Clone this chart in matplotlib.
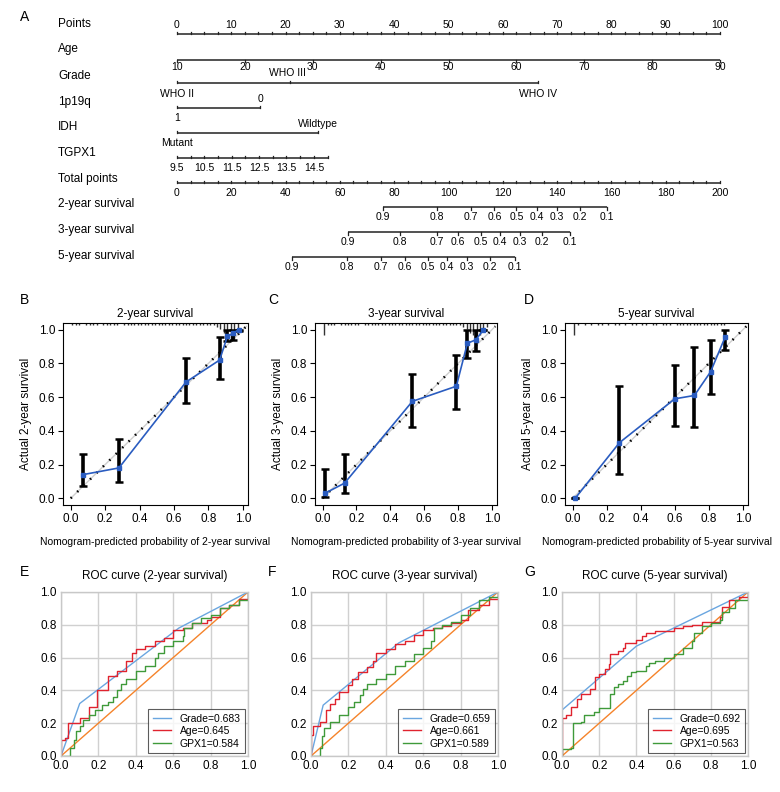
import numpy as np
import matplotlib
matplotlib.use('Agg')
import matplotlib.pyplot as plt

plt.rcParams['font.family'] = ['Liberation Sans Narrow', 'Liberation Sans', 'DejaVu Sans']

W, H = 780, 792

# ---------- A: nomogram ----------
points_ticks = list(range(0, 101, 10))
age_ticks = [10, 20, 30, 40, 50, 60, 70, 80, 90]
grade_levels = ['WHO II', 'WHO III', 'WHO IV']
grade_points = [0, 20.8, 66.5]
p19q_levels = ['1', '0']
p19q_points = [0, 15.3]
idh_levels = ['Mutant', 'Wildtype']
idh_points = [0, 26.0]
tgpx1_labels = [9.5, 10.5, 11.5, 12.5, 13.5, 14.5]
tgpx1_range = [9.5, 15.0]
tgpx1_pts_per_unit = 5.04
total_ticks = list(range(0, 201, 20))
surv_probs = [0.9, 0.8, 0.7, 0.6, 0.5, 0.4, 0.3, 0.2, 0.1]
surv2_total = [75.9, 95.8, 108.3, 116.9, 125.0, 132.6, 139.9, 148.4, 158.4]
surv3_total = [63.0, 82.1, 95.8, 103.5, 111.9, 118.9, 126.3, 134.3, 144.8]
surv5_total = [42.4, 62.6, 75.1, 84.0, 92.4, 99.4, 106.8, 115.3, 124.5]

# ---------- B-D: calibration ----------
cal2_pred = [0.07, 0.28, 0.67, 0.865, 0.91, 0.945, 0.975]
cal2_obs = [0.14, 0.18, 0.69, 0.82, 0.96, 0.98, 1.0]
cal2_lo = [0.07, 0.095, 0.565, 0.71, 0.935, 0.94, 0.99]
cal2_hi = [0.265, 0.35, 0.835, 0.955, 1.0, 1.0, 1.0]
cal2_rug = [1, 1, 1, 0, 1, 1, 1, 1, 0, 1, 1, 1, 1, 1, 0, 1, 1, 1, 1, 1, 1, 1, 1, 1, 1,
            1, 1, 1, 1, 1, 1, 1, 1, 1, 1, 1, 1, 1, 1, 1, 1, 1, 2, 3, 5, 7, 9, 8, 5, 0]

cal3_pred = [0.015, 0.13, 0.53, 0.79, 0.855, 0.905, 0.95]
cal3_obs = [0.03, 0.09, 0.575, 0.665, 0.92, 0.94, 1.0]
cal3_lo = [0.005, 0.03, 0.425, 0.53, 0.835, 0.875, 1.0]
cal3_hi = [0.175, 0.26, 0.74, 0.85, 1.0, 1.0, 1.0]
cal3_rug = [6, 1, 1, 1, 0, 1, 1, 1, 1, 1, 1, 0, 1, 1, 1, 1, 1, 1, 1, 1, 1, 1, 1, 1, 1,
            1, 1, 1, 1, 1, 1, 1, 1, 1, 1, 1, 1, 1, 1, 1, 1, 2, 3, 5, 6, 7, 6, 4, 2, 0]

cal5_pred = [0.015, 0.275, 0.6, 0.715, 0.81, 0.895]
cal5_obs = [0.0, 0.33, 0.59, 0.61, 0.75, 0.955]
cal5_lo = [0.0, 0.145, 0.43, 0.425, 0.62, 0.88]
cal5_hi = [0.0, 0.665, 0.79, 0.895, 0.94, 1.0]
cal5_rug = [6, 1, 0, 1, 0, 1, 0, 1, 1, 0, 1, 0, 1, 1, 0, 1, 0, 1, 1, 0, 1, 1, 0, 1, 1,
            0, 1, 1, 1, 0, 1, 1, 1, 1, 1, 1, 1, 1, 1, 1, 1, 1, 1, 1, 1, 0, 0, 0, 0, 0]

# ---------- E-G: ROC ----------
roc2_grade = ([0, 0.1, 0.63, 1.0], [0, 0.32, 0.78, 1.0])
roc2_age = ([0, 0, 0.02, 0.04, 0.1, 0.15, 0.19, 0.25, 0.25, 0.3, 0.35, 0.38, 0.4, 0.45, 0.5,
             0.55, 0.6, 0.65, 0.7, 0.78, 0.8, 0.85, 0.9, 0.95, 1.0],
            [0, 0.1, 0.11, 0.2, 0.23, 0.3, 0.4, 0.44, 0.49, 0.52, 0.58, 0.63, 0.65, 0.67, 0.7,
             0.72, 0.77, 0.78, 0.81, 0.83, 0.85, 0.9, 0.92, 0.96, 1.0])
roc2_gpx1 = ([0, 0.05, 0.07, 0.08, 0.1, 0.12, 0.15, 0.18, 0.22, 0.25, 0.28, 0.3, 0.32, 0.35,
              0.4, 0.45, 0.5, 0.52, 0.55, 0.6, 0.65, 0.66, 0.7, 0.75, 0.8, 0.85, 0.9, 0.95, 1.0],
             [0, 0.05, 0.1, 0.15, 0.18, 0.22, 0.25, 0.28, 0.31, 0.33, 0.36, 0.4, 0.44, 0.47,
              0.52, 0.55, 0.6, 0.63, 0.67, 0.7, 0.73, 0.78, 0.81, 0.84, 0.86, 0.9, 0.92, 0.95, 1.0])

roc3_grade = ([0, 0.065, 0.47, 1.0], [0, 0.31, 0.69, 1.0])
roc3_age = ([0, 0, 0.01, 0.05, 0.08, 0.1, 0.13, 0.15, 0.2, 0.22, 0.25, 0.3, 0.33, 0.35, 0.4,
             0.45, 0.5, 0.55, 0.6, 0.65, 0.7, 0.75, 0.8, 0.84, 0.84, 0.9, 0.95, 1.0],
            [0, 0.13, 0.18, 0.21, 0.28, 0.32, 0.35, 0.39, 0.43, 0.47, 0.51, 0.54, 0.58, 0.63,
             0.65, 0.68, 0.7, 0.74, 0.77, 0.78, 0.79, 0.81, 0.83, 0.85, 0.89, 0.92, 0.96, 1.0])
roc3_gpx1 = ([0, 0.05, 0.06, 0.07, 0.1, 0.15, 0.2, 0.23, 0.26, 0.28, 0.3, 0.35, 0.4, 0.45,
              0.5, 0.55, 0.6, 0.64, 0.66, 0.7, 0.75, 0.8, 0.85, 0.9, 0.95, 1.0],
             [0, 0.05, 0.12, 0.17, 0.21, 0.25, 0.3, 0.33, 0.37, 0.41, 0.44, 0.47, 0.5, 0.55,
              0.58, 0.62, 0.66, 0.7, 0.78, 0.8, 0.82, 0.86, 0.9, 0.95, 0.97, 1.0])

roc5_grade = ([0, 0, 0.4, 1.0], [0, 0.28, 0.67, 1.0])
roc5_age = ([0, 0, 0.02, 0.05, 0.08, 0.1, 0.15, 0.18, 0.2, 0.23, 0.25, 0.26, 0.3, 0.33, 0.34,
             0.4, 0.43, 0.45, 0.5, 0.6, 0.65, 0.7, 0.75, 0.85, 0.86, 0.9, 0.95, 1.0],
            [0, 0.23, 0.25, 0.3, 0.35, 0.38, 0.41, 0.48, 0.5, 0.53, 0.56, 0.62, 0.64, 0.66,
             0.69, 0.71, 0.73, 0.75, 0.76, 0.78, 0.79, 0.8, 0.82, 0.85, 0.91, 0.95, 0.97, 1.0])
roc5_gpx1 = ([0, 0, 0.05, 0.06, 0.1, 0.12, 0.17, 0.2, 0.26, 0.26, 0.28, 0.3, 0.33, 0.35, 0.37,
              0.4, 0.45, 0.47, 0.5, 0.55, 0.6, 0.65, 0.7, 0.71, 0.75, 0.8, 0.85, 0.86, 0.9,
              0.93, 1.0],
             [0, 0.04, 0.05, 0.2, 0.21, 0.25, 0.27, 0.29, 0.3, 0.38, 0.42, 0.44, 0.46, 0.49,
              0.51, 0.52, 0.55, 0.57, 0.58, 0.6, 0.62, 0.66, 0.7, 0.75, 0.79, 0.81, 0.83, 0.88,
              0.9, 0.95, 1.0])

auc_labels = [['Grade=0.683', 'Age=0.645', 'GPX1=0.584'],
              ['Grade=0.659', 'Age=0.661', 'GPX1=0.589'],
              ['Grade=0.692', 'Age=0.695', 'GPX1=0.563']]


def px_axes(fig, left, top, right, bottom):
    return fig.add_axes([left / W, 1 - bottom / H, (right - left) / W, (bottom - top) / H])


fig = plt.figure(figsize=(W / 100, H / 100), dpi=100)

# nomogram axes in "points" units horizontally, pixels vertically
ax = px_axes(fig, 0, 0, W, 280)
px_per_pt = (720 - 177) / 100
ax.set_xlim(-177 / px_per_pt, (W - 177) / px_per_pt)
ax.set_ylim(280, 0)
ax.axis('off')
fs = 7.5
lc = '#222222'


def scale_line(y, x0, x1):
    ax.plot([x0, x1], [y, y], color=lc, lw=1.1, solid_capstyle='butt')


def ticks(y, xs, up=True, ln=2.5):
    d = -ln if up else ln
    for x in xs:
        ax.plot([x, x], [y, y + d], color=lc, lw=0.9)


row_labels = ['Points', 'Age', 'Grade', '1p19q', 'IDH', 'TGPX1', 'Total points',
              '2-year survival', '3-year survival', '5-year survival']
row_y = [24, 49, 76, 102, 127, 153, 179, 204, 230, 256]
for lab, y in zip(row_labels, row_y):
    ax.text((58 - 177) / px_per_pt, y, lab, fontsize=8.5, va='center', ha='left')
ax.text((20 - 177) / px_per_pt, 17, 'A', fontsize=10, va='center', ha='left')

# Points
scale_line(34, 0, 100)
ticks(34, np.arange(0, 100.1, 2.5))
for v in points_ticks:
    ax.text(v, 25, str(v), fontsize=fs, ha='center', va='center')

# Age
age_pts = [(a - age_ticks[0]) / (age_ticks[-1] - age_ticks[0]) * 100 for a in age_ticks]
scale_line(60, 0, 100)
ticks(60, age_pts, up=False, ln=1.5)
for a, p in zip(age_ticks, age_pts):
    ax.text(p, 67, str(a), fontsize=fs, ha='center', va='center')

# Grade
scale_line(83, grade_points[0], grade_points[-1])
ticks(83, grade_points)
ax.text(grade_points[0], 94, grade_levels[0], fontsize=fs, ha='center', va='center')
ax.annotate(grade_levels[1], (grade_points[1], 73), xytext=(-2.5, 0), textcoords='offset pixels',
            fontsize=fs, ha='center', va='center')
ax.text(grade_points[2], 94, grade_levels[2], fontsize=fs, ha='center', va='center')

# 1p19q
scale_line(108, p19q_points[0], p19q_points[1])
ticks(108, p19q_points)
ax.text(p19q_points[0], 118, p19q_levels[0], fontsize=fs, ha='center', va='center')
ax.text(p19q_points[1], 99, p19q_levels[1], fontsize=fs, ha='center', va='center')

# IDH
scale_line(133, idh_points[0], idh_points[1])
ticks(133, idh_points)
ax.text(idh_points[0], 143, idh_levels[0], fontsize=fs, ha='center', va='center')
ax.text(idh_points[1], 124, idh_levels[1], fontsize=fs, ha='center', va='center')

# TGPX1
t_pts = lambda v: (v - tgpx1_range[0]) * tgpx1_pts_per_unit
scale_line(158, t_pts(tgpx1_range[0]), t_pts(tgpx1_range[1]))
ticks(158, [t_pts(v) for v in np.arange(tgpx1_range[0], tgpx1_range[1] + 0.01, 0.5)])
for v in tgpx1_labels:
    ax.text(t_pts(v), 168, f'{v:.1f}', fontsize=fs, ha='center', va='center')

# Total points
scale_line(183, 0, 100)
ticks(183, np.arange(0, 100.1, 2.5))
for v in total_ticks:
    ax.text(v / 2, 193, str(v), fontsize=fs, ha='center', va='center')

# survival scales
for tot, y in [(surv2_total, 207), (surv3_total, 232), (surv5_total, 257)]:
    xs = [t / 2 for t in tot]
    scale_line(y, xs[0], xs[-1])
    ticks(y, xs, up=False, ln=2.5)
    for p, x in zip(surv_probs, xs):
        ax.text(x, y + 10, f'{p:.1f}', fontsize=fs, ha='center', va='center')

# ---------- calibration panels ----------
cal_sets = [
    (cal2_pred, cal2_obs, cal2_lo, cal2_hi, cal2_rug, '2', (63, 248), 'B', 20),
    (cal3_pred, cal3_obs, cal3_lo, cal3_hi, cal3_rug, '3', (315, 497), 'C', 268),
    (cal5_pred, cal5_obs, cal5_lo, cal5_hi, cal5_rug, '5', (565, 748), 'D', 524),
]
diag = np.array([0, 1.02])
rug_x = np.arange(0.01, 1.0, 0.02)
tk = np.arange(0, 1.01, 0.2)
for pred, obs, lo, hi, rug, yr, (l, r), letter, lx in cal_sets:
    a = px_axes(fig, l, 323, r, 505)
    a.set_xlim(-0.045, 1.03)
    a.set_ylim(-0.04, 1.04)
    a.plot(diag, diag, color='#cfcfcf', lw=1.0)
    a.plot(diag, diag, color='black', lw=1.8, ls=(0, (0.6, 3.0)))
    pred = np.array(pred); obs = np.array(obs)
    a.errorbar(pred, obs, yerr=[obs - np.array(lo), np.array(hi) - obs], fmt='none',
               ecolor='black', elinewidth=2.6, capsize=3, capthick=1.8, zorder=3)
    a.plot(pred, obs, color='#2a5cc0', lw=1.2, marker='s', ms=2.5, zorder=4)
    rh = np.array(rug) * 0.012
    a.vlines(rug_x[rh > 0], 1.04 - rh[rh > 0], 1.04, color='#333333', lw=1.0)
    a.set_xticks(tk)
    a.set_yticks(tk)
    a.set_xticklabels([f'{v:.1f}' for v in tk])
    a.set_yticklabels([f'{v:.1f}' for v in tk])
    a.tick_params(labelsize=8.5, length=3.5, width=0.8, pad=2)
    for s in a.spines.values():
        s.set_linewidth(0.8)
    a.set_title(f'{yr}-year survival', fontsize=8.5, pad=4)
    a.set_xlabel(f'Nomogram-predicted probability of {yr}-year survival', fontsize=7.5, labelpad=9)
    a.set_ylabel(f'Actual {yr}-year survival', fontsize=8.5, labelpad=5)
    fig.text(lx / W, 1 - 300 / H, letter, fontsize=10, va='center', ha='left')

# ---------- ROC panels ----------
roc_sets = [
    (roc2_grade, roc2_age, roc2_gpx1, '2', (61, 248), 'E', 20),
    (roc3_grade, roc3_age, roc3_gpx1, '3', (311, 498), 'F', 268),
    (roc5_grade, roc5_age, roc5_gpx1, '5', (562, 748), 'G', 524),
]
for i, (g, ag, gp, yr, (l, r), letter, lx) in enumerate(roc_sets):
    a = px_axes(fig, l, 592, r, 756)
    a.set_xlim(0, 1)
    a.set_ylim(0, 1)
    a.grid(True, color='#d0d0d0', lw=1.0)
    a.set_axisbelow(True)
    for s in a.spines.values():
        s.set_color('#c8c8c8')
        s.set_linewidth(1.0)
    a.plot([0, 1], [0, 1], color='#f5832a', lw=1.0)
    a.plot(*g, color='#6aa6e0', lw=1.0, label=auc_labels[i][0])
    a.plot(*ag, color='#e0232e', lw=1.0, drawstyle='steps-post', label=auc_labels[i][1])
    a.plot(*gp, color='#3f9a3a', lw=1.0, drawstyle='steps-post', label=auc_labels[i][2])
    a.set_xticks(tk)
    a.set_yticks(tk)
    a.set_xticklabels([f'{v:.1f}' for v in tk])
    a.set_yticklabels([f'{v:.1f}' for v in tk])
    a.tick_params(labelsize=8.5, length=0, pad=3)
    a.set_title(f'ROC curve ({yr}-year survival)', fontsize=8.5, pad=9)
    leg = a.legend(loc='lower right', fontsize=7.5, frameon=True, fancybox=False,
                   handlelength=1.8, borderpad=0.4, labelspacing=0.25, borderaxespad=0.3)
    leg.get_frame().set_edgecolor('#333333')
    leg.get_frame().set_linewidth(0.8)
    fig.text(lx / W, 1 - 572 / H, letter, fontsize=10, va='center', ha='left')

fig.savefig('out.png', dpi=100)
